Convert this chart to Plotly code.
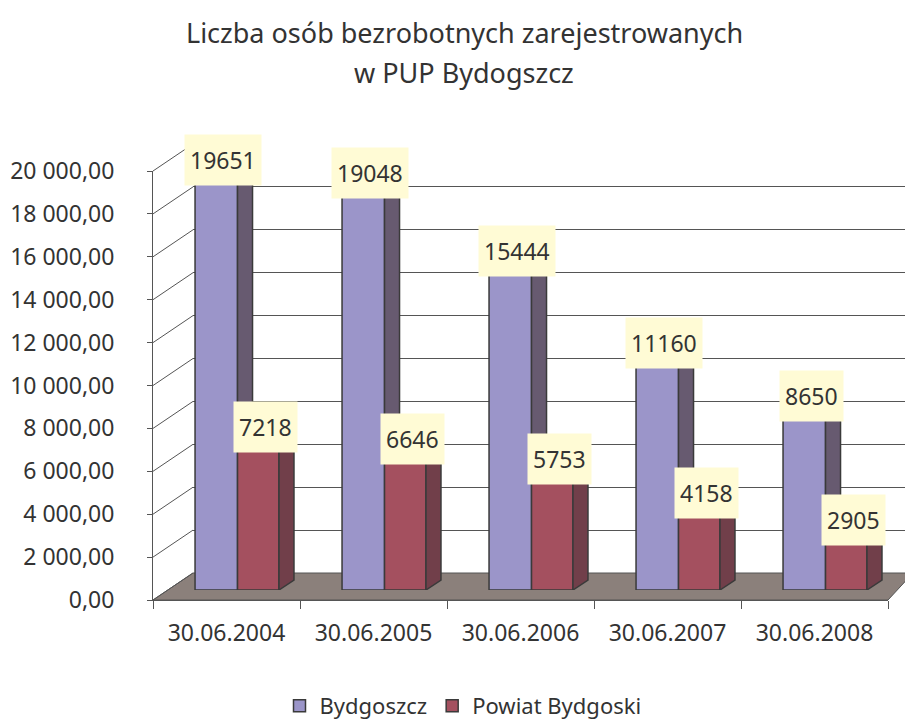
import plotly.graph_objects as go

# ---- data ----
categories = ["30.06.2004", "30.06.2005", "30.06.2006", "30.06.2007", "30.06.2008"]
bydgoszcz = [19651, 19048, 15444, 11160, 8650]
powiat = [7218, 6646, 5753, 4158, 2905]
series_names = ["Bydgoszcz", "Powiat Bydgoski"]
y_ticks = [0, 2000, 4000, 6000, 8000, 10000, 12000, 14000, 16000, 18000, 20000]
y_tick_labels = ["0,00", "2 000,00", "4 000,00", "6 000,00", "8 000,00", "10 000,00",
                 "12 000,00", "14 000,00", "16 000,00", "18 000,00", "20 000,00"]
title_lines = ["Liczba osób bezrobotnych zarejestrowanych", "w PUP Bydogszcz"]

# ---- style / geometry ----
W, H = 913, 724
OFF = 8  # page body margin
FONT = "Noto Sans"
TXT = "#333333"
LINE = "#555555"
front_cols = ["#9B95C9", "#A4505F"]
side_cols = ["#675A70", "#713F4A"]
top_cols = ["#B9B4DC", "#C07080"]
label_bg = "#FFFBD5"
floor_col = "#8B807B"

def px(x):
    return (x - OFF) / W

def py(y):
    return 1 - (y - OFF) / H

YMAX = 20000
front_x0, front_x1 = 153, 888
front_y0, front_y1 = 600, 171          # front axis: 0 -> 600px, 20000 -> 171px
back_dx, back_dy = 40, 27              # back wall offset
bar_y0 = 590                           # bar base
scale = (front_y0 - front_y1) / YMAX   # px per unit
cat_px = (front_x1 - front_x0) / len(categories)

# bar geometry in category units
offsets = [-0.214, 0.075]
widths = [0.289, 0.282]
depth_px = (15, 10)
d = depth_px[0] / cat_px
dyv = depth_px[1] / scale

values = [bydgoszcz, powiat]
fig = go.Figure()

# subplot xy: back wall grid
fig.add_trace(go.Scatter(x=[0], y=[0], mode="markers", marker=dict(opacity=0),
                         showlegend=False, hoverinfo="skip", xaxis="x", yaxis="y"))
# subplot x2y2: front frame
fig.add_trace(go.Scatter(x=[0], y=[0], mode="markers", marker=dict(opacity=0),
                         showlegend=False, hoverinfo="skip", xaxis="x2", yaxis="y2"))

# subplot x3y3: bars (front faces)
xs = list(range(len(categories)))
for s in range(2):
    fig.add_trace(go.Bar(
        x=xs, y=values[s], name=series_names[s], offset=offsets[s], width=widths[s],
        marker=dict(color=front_cols[s], line=dict(color="#3A3A3A", width=1.5)),
        xaxis="x3", yaxis="y3", hoverinfo="skip"))

# top and side faces
for i in xs:
    vp, vr = bydgoszcz[i], powiat[i]
    for s in range(2):
        v = values[s][i]
        xl = i + offsets[s]
        xr = xl + widths[s]
        fig.add_trace(go.Scatter(
            x=[xl, xr, xr + d, xl + d, xl], y=[v, v, v + dyv, v + dyv, v],
            fill="toself", fillcolor=top_cols[s], mode="lines",
            line=dict(color="#3A3A3A", width=1.5), showlegend=False,
            hoverinfo="skip", xaxis="x3", yaxis="y3"))
        if s == 0:
            sx = [xr, xr + d, xr + d, xr, xr]
            sy = [vr, vr + dyv, vp + dyv, vp, vr]
        else:
            sx = [xr, xr + d, xr + d, xr, xr]
            sy = [0, dyv, v + dyv, v, 0]
        fig.add_trace(go.Scatter(
            x=sx, y=sy, fill="toself", fillcolor=side_cols[s], mode="lines",
            line=dict(color="#3A3A3A", width=1.5), showlegend=False,
            hoverinfo="skip", xaxis="x3", yaxis="y3"))

# data labels
annotations = []
for s in range(2):
    for i in xs:
        v = values[s][i]
        annotations.append(dict(
            x=i + offsets[s] + widths[s] / 2, y=v, xref="x3", yref="y3",
            text=str(v), showarrow=False, xshift=7, yshift=8,
            font=dict(family=FONT, size=23, color=TXT),
            bgcolor=label_bg, borderpad=5, height=40, yanchor="middle"))

# title
for k, yy in enumerate([33, 73]):
    annotations.append(dict(x=px(464), y=py(yy), xref="paper", yref="paper", text=title_lines[k],
                            showarrow=False, font=dict(family=FONT, size=27, color=TXT),
                            yanchor="middle"))

# shapes: floor + diagonal connectors
shapes = []
fl = [(front_x0, front_y0), (front_x1, front_y0), (913, front_y0 - back_dy),
      (front_x0 + back_dx, front_y0 - back_dy)]
path = "M " + " L ".join(f"{px(a)},{py(b)}" for a, b in fl) + " Z"
shapes.append(dict(type="path", path=path, xref="paper", yref="paper",
                   fillcolor=floor_col, line=dict(color=LINE, width=1), layer="below"))
for t in y_ticks:
    yf = front_y0 - t * scale
    shapes.append(dict(type="line", xref="paper", yref="paper",
                       x0=px(front_x0), y0=py(yf), x1=px(front_x0 + back_dx), y1=py(yf - back_dy),
                       line=dict(color=LINE, width=1), layer="below"))

fig.update_layout(
    width=W, height=H, margin=dict(l=0, r=0, t=0, b=0, autoexpand=False),
    paper_bgcolor="white", plot_bgcolor="rgba(0,0,0,0)",
    barmode="overlay", showlegend=True,
    font=dict(family=FONT, size=23, color=TXT),
    legend=dict(orientation="h", x=px(463), y=py(706), xanchor="center", yanchor="middle",
                font=dict(family=FONT, size=22, color=TXT), itemwidth=30,
                bgcolor="rgba(0,0,0,0)"),
    annotations=annotations, shapes=shapes,
    xaxis=dict(domain=[px(front_x0 + back_dx), px(913)], range=[0, 1], visible=False,
               automargin=False),
    yaxis=dict(domain=[py(front_y0 - back_dy), py(front_y1 - back_dy)], range=[0, YMAX],
               anchor="x", showgrid=True, gridcolor=LINE, gridwidth=1, dtick=2000, tick0=0,
               showticklabels=False, zeroline=False, showline=False, ticks="", automargin=False),
    xaxis2=dict(domain=[px(front_x0), px(front_x1)], range=[-0.5, len(categories) - 0.5],
                anchor="y2", tickvals=xs, ticktext=categories, ticks="", showgrid=False,
                zeroline=False, showline=True, linecolor=LINE, linewidth=1,
                ticklabelstandoff=12, automargin=False,
                minor=dict(tickvals=[i - 0.5 for i in range(len(categories) + 1)],
                           ticks="outside", ticklen=8, tickcolor=LINE, showgrid=False),
                tickfont=dict(family=FONT, size=23, color=TXT)),
    yaxis2=dict(domain=[py(front_y0), py(front_y1)], range=[0, YMAX], anchor="x2",
                tickvals=y_ticks, ticktext=y_tick_labels, ticks="outside", ticklen=5,
                tickcolor=LINE, showgrid=False, zeroline=False, showline=True,
                linecolor=LINE, linewidth=1, ticklabelstandoff=28, automargin=False,
                tickfont=dict(family=FONT, size=23, color=TXT)),
    xaxis3=dict(domain=[px(front_x0), px(front_x1)], range=[-0.5, len(categories) - 0.5],
                anchor="y3", visible=False, automargin=False),
    yaxis3=dict(domain=[py(bar_y0), py(bar_y0 - YMAX * scale)], range=[0, YMAX],
                anchor="x3", visible=False, automargin=False),
)

fig.write_html("out.html")
